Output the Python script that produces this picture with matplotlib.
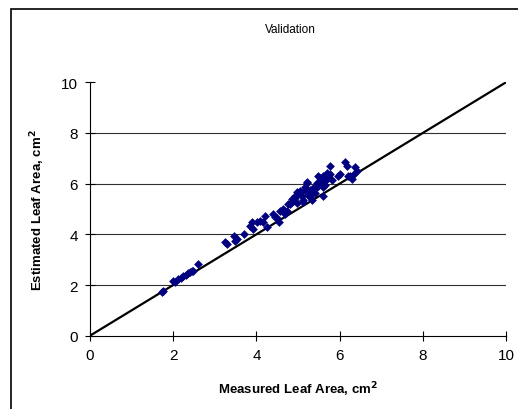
import matplotlib.pyplot as plt
from matplotlib.patches import Rectangle

# measured vs estimated leaf area (cm^2)
measured = [1.72, 1.75, 2.00, 2.05, 2.12, 2.18, 2.24, 2.30, 2.36, 2.40, 2.44, 2.48, 2.60,
            3.25, 3.30, 3.45, 3.49, 3.53, 3.69,
            3.85, 3.89, 3.93, 4.01, 4.09, 4.17, 4.21, 4.25, 4.41, 4.45, 4.49, 4.55,
            4.57, 4.65, 4.69, 4.73, 4.77, 4.81, 4.85, 4.85, 4.93, 4.93, 4.97, 4.97,
            5.05, 5.05, 5.09, 5.13, 5.13, 5.17, 5.17, 5.21, 5.21, 5.25, 5.29, 5.29,
            5.33, 5.37, 5.37, 5.41, 5.45, 5.45, 5.49, 5.49, 5.53, 5.57, 5.57, 5.61,
            5.61, 5.61, 5.65, 5.69, 5.69, 5.73, 5.77, 5.77, 5.81, 5.97, 6.01, 6.13,
            6.17, 6.21, 6.25, 6.29, 6.33, 6.37, 6.41]
estimated = [1.71, 1.75, 2.17, 2.12, 2.24, 2.28, 2.37, 2.40, 2.47, 2.50, 2.57, 2.55, 2.83,
             3.69, 3.60, 3.95, 3.75, 3.80, 4.01,
             4.34, 4.47, 4.20, 4.47, 4.54, 4.47, 4.74, 4.30, 4.80, 4.67, 4.65, 4.48,
             4.93, 5.00, 4.80, 4.91, 5.20, 5.18, 5.26, 5.39, 5.52, 5.44, 5.66, 5.24,
             5.72, 5.64, 5.50, 5.26, 5.37, 5.86, 5.76, 6.05, 6.03, 5.57, 5.46, 5.76,
             5.37, 5.66, 5.83, 5.64, 5.86, 6.03, 6.31, 5.89, 6.22, 6.05, 6.09, 5.86,
             5.52, 6.29, 5.96, 6.18, 6.42, 6.29, 6.71, 6.38, 6.16, 6.29, 6.38, 6.84,
             6.68, 6.31, 6.29, 6.18, 6.35, 6.65, 6.48]

ticks = [0, 2, 4, 6, 8, 10]

fig = plt.figure(figsize=(5.18, 4.10), dpi=100)
plt.rcParams['font.family'] = ['Liberation Sans', 'DejaVu Sans']

# chart area border (cropped on right/bottom)
fig.patches.append(Rectangle((11/518, -0.1), 1.2, (410-10)/410 + 0.1, transform=fig.transFigure,
                             fill=False, edgecolor='black', linewidth=1.2))

ax = fig.add_axes([90/518, (410-336.7)/410, (506-90)/518, (336.7-83.3)/410])

for g in ticks[1:-1]:
    ax.axhline(g, color='#303030', linewidth=0.8, zorder=1)

ax.plot([0, 10], [0, 10], color='black', linewidth=1.6, zorder=2)
ax.scatter(measured, estimated, marker='D', s=20, color='#000080', zorder=3, linewidths=0)

ax.set_xlim(0, 10)
ax.set_ylim(0, 10)
ax.set_xticks(ticks)
ax.set_yticks(ticks)
for s in ['top', 'right']:
    ax.spines[s].set_visible(False)
for s in ['left', 'bottom']:
    ax.spines[s].set_linewidth(0.8)
ax.tick_params(direction='inout', length=7, width=0.8, labelsize=11, pad=5)

fig.text(290/518, 1 - 30/410, 'Validation', ha='center', va='center', fontsize=8.5)
ax.set_xlabel('Measured Leaf Area, cm$^\\mathbf{2}$', fontsize=9.5, fontweight='bold', labelpad=13)
ax.set_ylabel('Estimated Leaf Area, cm$^\\mathbf{2}$', fontsize=9.5, fontweight='bold', labelpad=10)

fig.savefig('out.png', dpi=100)
